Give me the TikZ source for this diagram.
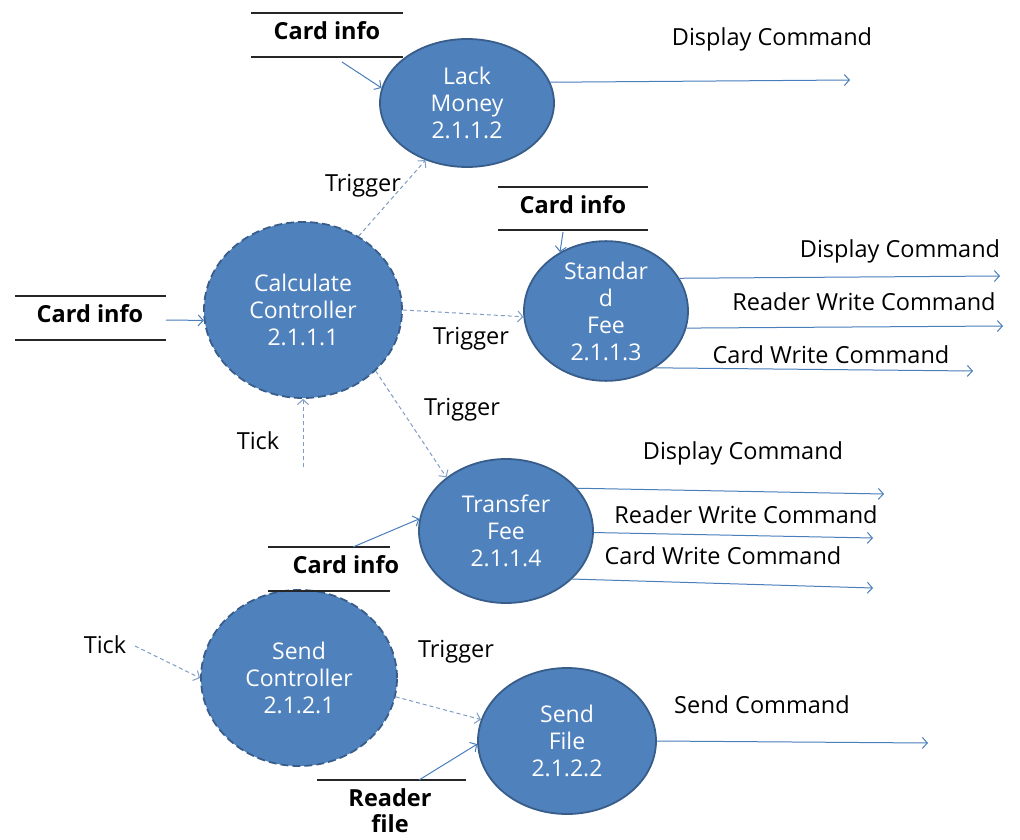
\documentclass[tikz,border=0pt]{standalone}
\usepackage{fontspec}
\setmainfont{Open Sans}
\usetikzlibrary{shapes.geometric,arrows.meta}
\definecolor{bubble}{HTML}{4F81BD}
\definecolor{bubbleedge}{HTML}{385D8A}
\definecolor{flow}{HTML}{4A7EBB}
\definecolor{dflow}{HTML}{7F9CC4}
\tikzset{
  proc/.style={ellipse, fill=bubble, draw=bubbleedge, line width=1.8pt, inner sep=0pt,
    text=white, align=center, font=\fontsize{23}{27}\selectfont},
  ctrl/.style={proc, dash pattern=on 8pt off 4pt},
  lbl/.style={font=\fontsize{23.5}{27}\selectfont, text=black, inner sep=0pt},
  storelbl/.style={font=\fontsize{23.5}{26}\selectfont\bfseries, text=black, inner sep=0pt, align=center},
  storeline/.style={draw=black!85, line width=1.2pt},
  flowarr/.style={draw=flow, line width=1pt, -{Straight Barb[length=5pt,width=11pt]}},
  trig/.style={draw=dflow, line width=1pt, dash pattern=on 4pt off 3pt, -{Straight Barb[length=5pt,width=11pt]}}
}
\begin{document}
\begin{tikzpicture}[x=1pt,y=-1pt]
\useasboundingbox (0,0) rectangle (1020,840);
% processes
\node[proc, minimum width=174pt, minimum height=128pt] (lack) at (467,103) {Lack\\Money\\2.1.1.2};
\node[ctrl, minimum width=198pt, minimum height=176pt] (calc) at (303,310) {Calculate\\Controller\\2.1.1.1};
\node[proc, minimum width=164pt, minimum height=132pt] (std) at (606,311) {Standar\\d\\Fee\\2.1.1.3};
\node[proc, minimum width=174pt, minimum height=144pt] (trf) at (506,531) {Transfer\\Fee\\2.1.1.4};
\node[ctrl, minimum width=196pt, minimum height=176pt] (sctl) at (299,678) {Send\\Controller\\2.1.2.1};
\node[proc, minimum width=178pt, minimum height=146pt] (sfile) at (567,741) {Send\\File\\2.1.2.2};
% data stores
\node[storelbl] (ci1) at (327,31) {Card info};
\draw[storeline] (251,13) -- (403,13) (251,57) -- (403,57);
\node[storelbl] (ci2) at (90,314) {Card info};
\draw[storeline] (15,296) -- (166,296) (15,340) -- (166,340);
\node[storelbl] (ci3) at (573,205) {Card info};
\draw[storeline] (498,187) -- (648,187) (498,230) -- (648,230);
\node[storelbl] (ci4) at (346,565) {Card info};
\draw[storeline] (268,547) -- (390,547) (268,591) -- (390,591);
\node[storelbl] (rf) at (390,811) {Reader\\file};
\draw[storeline] (317,780) -- (466,780);
% free ends
\coordinate (ci1o) at (342,62);
\coordinate (ci2o) at (166,320);
\coordinate (ci3o) at (563,232);
\coordinate (ci4o) at (353,547);
\coordinate (rfo) at (419,780);
\coordinate (tick1) at (303,467);
\coordinate (tick2) at (135,646);
\coordinate (d1) at (850,80);
\coordinate (d2) at (1000,276);
\coordinate (r2) at (1003,326);
\coordinate (c2) at (973,371);
\coordinate (d3) at (884,494);
\coordinate (r3) at (873,538);
\coordinate (c3) at (873,588);
\coordinate (sc) at (928,743);
% flows
\draw[flowarr] (ci1o) -- (lack.170);
\draw[flowarr] (lack.14) -- (d1);
\draw[trig] (calc.53) -- (lack.234);
\draw[flowarr] (ci2o) -- (calc.186);
\draw[trig] (calc.0) -- (std.184);
\draw[trig] (calc.320) -- (trf.138);
\draw[trig] (tick1) -- (calc.270);
\draw[flowarr] (ci3o) -- (std.128);
\draw[flowarr] (std.24) -- (d2);
\draw[flowarr] (std.348) -- (r2);
\draw[flowarr] (std.311) -- (c2);
\draw[flowarr] (ci4o) -- (trf.172);
\draw[flowarr] (trf.31) -- (d3);
\draw[flowarr] (trf.359) -- (r3);
\draw[flowarr] (trf.324) -- (c3);
\draw[trig] (tick2) -- (sctl.180);
\draw[trig] (sctl.349) -- (sfile.166);
\draw[flowarr] (rfo) -- (sfile.182);
\draw[flowarr] (sfile.0) -- (sc);
% labels
\node[lbl] (l1) at (772,39) {Display Command};
\node[lbl] (t1) at (363,186) {Trigger};
\node[lbl] (t2) at (471,339) {Trigger};
\node[lbl] (t3) at (462,410) {Trigger};
\node[lbl] (tk1) at (258,441) {Tick};
\node[lbl] (l2) at (900,251) {Display Command};
\node[lbl] (l3) at (864,302) {Reader Write Command};
\node[lbl] (l4) at (831,355) {Card Write Command};
\node[lbl] (l5) at (743,453) {Display Command};
\node[lbl] (l6) at (746,515) {Reader Write Command};
\node[lbl] (l7) at (723,556) {Card Write Command};
\node[lbl] (tk2) at (105,645) {Tick};
\node[lbl] (t4) at (456,652) {Trigger};
\node[lbl] (l8) at (762,705) {Send Command};
\end{tikzpicture}
\end{document}
